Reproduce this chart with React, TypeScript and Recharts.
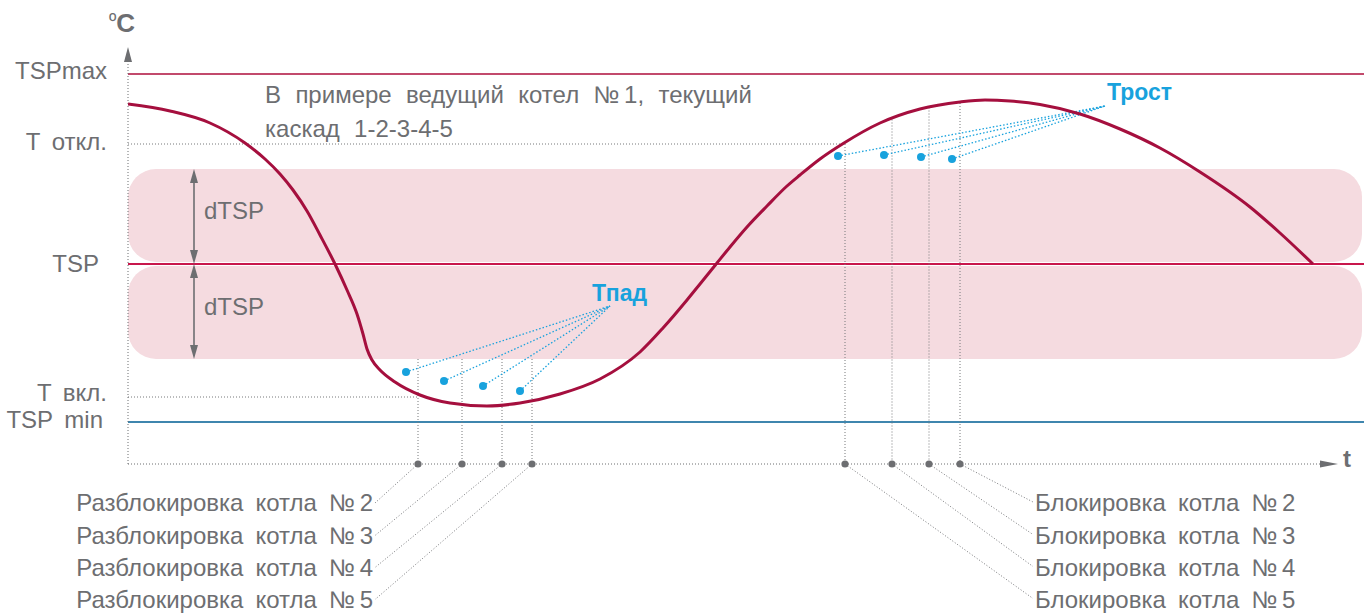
import React from 'react';
import {
  ComposedChart,
  Line,
  XAxis,
  YAxis,
  ReferenceLine,
  ReferenceArea,
  ReferenceDot,
  Scatter,
} from 'recharts';

const FONT = '"Liberation Sans", Arial, Helvetica, sans-serif';
const GRAY = '#6d6e71';
const BLUE = '#18a2dd';
const CURVE = '#a50f3e';
const TSP_COLOR = '#c8174c';
const MAX_COLOR = '#c24a6c';
const MIN_COLOR = '#3f86ae';
const BAND = '#f5dbe0';

const W = 1370;
const H = 614;

// temperature levels (chart units)
const TSP_MAX = 78;
const T_OFF = 64;
const TSP = 40;
const D_TSP = 19;
const T_ON = 13.4;
const TSP_MIN = 8.4;

// time axis
const T_MAX = 124;
const T_AXIS_END = 121;
const LINE_END = 123.6;
const BAND_END = 123.4;
const Y_AXIS_TOP = 83.4;
const Y_MIN = -30;
const Y_MAX = 92.8;

// boiler water temperature curve
const curveTime = [0, 4.2, 8.2, 11.7, 13.7, 15.2, 16.5, 17.9, 19.2, 20.7, 21.9, 22.9, 23.5, 23.9, 24.4, 25.2, 26.7, 29.2, 32.2, 35.9, 39.2, 43.2, 47.2, 51.2, 53.5, 55.9, 57.2, 58.9, 60.2, 61.9, 63.9, 65.9, 67.2, 69.2, 71.6, 75.2, 79.2, 83.2, 85.7, 88.2, 91.2, 95.2, 99.2, 103.2, 107.2, 112.2, 115.2, 118.5];
const curveTemp = [72, 70.6, 68.2, 64.2, 61, 58, 54.8, 50.6, 45.8, 40, 34.8, 30, 26, 23, 20.8, 18.8, 16.4, 13.8, 12.2, 11.6, 12.2, 14, 17, 22.4, 27.2, 32.8, 36, 40.2, 43.4, 47.4, 51.6, 55.6, 57.8, 61, 64.2, 68.2, 71, 72.4, 72.8, 72.6, 71.9, 70, 67, 63.2, 58.4, 51.4, 46.2, 40];

// y-axis level ticks
const levelTicks = [TSP_MAX, T_OFF, TSP, T_ON, TSP_MIN];
const levelLabels = ['TSPmax', 'T откл.', 'TSP', 'T вкл.', 'TSP min'];
const levelLabelDy = [5, 6, 8, 4, 6];
const levelLabelDx = [0, 0, -8, 0, -4];

// Тпад points (falling)
const fallDotTime = [27.8, 31.6, 35.5, 39.2];
const fallDotTemp = [18.4, 16.6, 15.6, 14.6];
const fallHubTime = 48.2;
const fallHubTemp = 31.6;

// Трост points (rising)
const riseDotTime = [71, 75.6, 79.3, 82.4];
const riseDotTemp = [61.6, 61.8, 61.4, 61];
const riseHubTime = 97.7;
const riseHubTemp = 71.6;

// unlock / lock moments on time axis
const unlockTime = [29, 33.4, 37.4, 40.4];
const lockTime = [71.7, 76.4, 80.1, 83.2];
const lockTopTemp = [T_OFF, 68.9, 71.3, 72.2];

// bottom labels
const unlockLabels = ['Разблокировка котла №\u20092', 'Разблокировка котла №\u20093', 'Разблокировка котла №\u20094', 'Разблокировка котла №\u20095'];
const lockLabels = ['Блокировка котла №\u20092', 'Блокировка котла №\u20093', 'Блокировка котла №\u20094', 'Блокировка котла №\u20095'];
const labelRowTemp = [-9.4, -15.9, -22.3, -28.7];
const lockRowForDot = [3, 2, 1, 0];
const unlockLabelEnd = 24.5;
const unlockLeaderEnd = 24.7;
const lockLabelStart = 90.7;
const lockLeaderEnd = 90.5;

const curveData = curveTime.map((t, i) => ({ t, temp: curveTemp[i] }));
const fallDots = fallDotTime.map((t, i) => ({ t, v: fallDotTemp[i] }));
const riseDots = riseDotTime.map((t, i) => ({ t, v: riseDotTemp[i] }));
const axisDots = [...unlockTime, ...lockTime].map((t) => ({ t, v: 0 }));

const arrowLine = (head: [number, number], dashed: boolean, both: boolean) => (p: any) => {
  const { x1, y1, x2, y2 } = p;
  const len = Math.hypot(x2 - x1, y2 - y1) || 1;
  const ux = (x2 - x1) / len;
  const uy = (y2 - y1) / len;
  const [hl, hw] = head;
  const nx = -uy;
  const ny = ux;
  const tri = (tx: number, ty: number, dx: number, dy: number) => {
    const bx = tx - dx * hl;
    const by = ty - dy * hl;
    return `${tx},${ty} ${bx + nx * hw},${by + ny * hw} ${bx - nx * hw},${by - ny * hw}`;
  };
  const sx = both ? x1 + ux * hl * 0.8 : x1;
  const sy = both ? y1 + uy * hl * 0.8 : y1;
  return (
    <g>
      <line
        x1={sx}
        y1={sy}
        x2={x2 - ux * hl * 0.8}
        y2={y2 - uy * hl * 0.8}
        stroke={GRAY}
        strokeWidth={dashed ? 1 : 1.6}
        strokeDasharray={dashed ? '1 2' : undefined}
      />
      <polygon points={tri(x2, y2, ux, uy)} fill={GRAY} />
      {both && <polygon points={tri(x1, y1, -ux, -uy)} fill={GRAY} />}
    </g>
  );
};

const textMark = (
  key: string,
  x: number,
  y: number,
  content: React.ReactNode,
  opts: { size?: number; bold?: boolean; fill?: string; anchor?: string; ws?: number } = {}
) => (
  <ReferenceDot
    key={key}
    x={x}
    y={y}
    r={0}
    ifOverflow="visible"
    shape={(p: any) => (
      <text
        x={p.cx}
        y={p.cy}
        fontFamily={FONT}
        fontSize={opts.size ?? 24}
        fontWeight={opts.bold ? 'bold' : 'normal'}
        fill={opts.fill ?? GRAY}
        textAnchor={opts.anchor ?? 'start'}
        wordSpacing={opts.ws ?? 0}
      >
        {content}
      </text>
    )}
  />
);

const LevelTick = (p: any) => {
  const idx = levelTicks.indexOf(p.payload.value);
  return (
    <text
      x={p.x + levelLabelDx[idx]}
      y={p.y + levelLabelDy[idx]}
      fontFamily={FONT}
      fontSize={24}
      fill={GRAY}
      textAnchor="end"
      wordSpacing={5}
    >
      {levelLabels[idx]}
    </text>
  );
};

const bandShape = (p: any) => (
  <rect x={p.x} y={p.y} width={p.width} height={p.height} rx={28} ry={28} fill={BAND} />
);

export default function App() {
  const dotted = { stroke: '#77787b', strokeWidth: 1, strokeDasharray: '1 2' };
  return (
    <div style={{ position: 'absolute', left: 0, top: 0, width: W, height: H, background: '#fff' }}>
      <ComposedChart width={W} height={H} data={curveData} margin={{ top: 0, right: 2, bottom: 0, left: 0 }}>
        <XAxis type="number" dataKey="t" domain={[0, T_MAX]} hide allowDataOverflow />
        <YAxis
          type="number"
          domain={[Y_MIN, Y_MAX]}
          ticks={levelTicks}
          interval={0}
          width={128}
          axisLine={false}
          tickLine={false}
          tickSize={0}
          tickMargin={21}
          tick={<LevelTick />}
          allowDataOverflow
        />

        {/* dTSP bands */}
        <ReferenceArea x1={0} x2={BAND_END} y1={TSP + 0.4} y2={TSP + D_TSP} shape={bandShape} ifOverflow="visible" />
        <ReferenceArea x1={0} x2={BAND_END} y1={TSP - D_TSP} y2={TSP - 0.4} shape={bandShape} ifOverflow="visible" />

        {/* level lines */}
        <ReferenceLine segment={[{ x: 0, y: TSP_MAX }, { x: LINE_END, y: TSP_MAX }]} stroke={MAX_COLOR} strokeWidth={2} />
        <ReferenceLine segment={[{ x: 0, y: TSP }, { x: LINE_END, y: TSP }]} stroke={TSP_COLOR} strokeWidth={2} />
        <ReferenceLine segment={[{ x: 0, y: TSP_MIN }, { x: LINE_END, y: TSP_MIN }]} stroke={MIN_COLOR} strokeWidth={2} />
        <ReferenceLine segment={[{ x: 0, y: T_OFF }, { x: lockTime[0], y: T_OFF }]} {...dotted} />
        <ReferenceLine segment={[{ x: 0, y: T_ON }, { x: unlockTime[0], y: T_ON }]} {...dotted} />

        {/* axes with arrows */}
        <ReferenceLine segment={[{ x: 0, y: 0 }, { x: 0, y: Y_AXIS_TOP }]} shape={arrowLine([15, 4], true, false)} />
        <ReferenceLine segment={[{ x: 0, y: 0 }, { x: T_AXIS_END, y: 0 }]} shape={arrowLine([18, 3.5], true, false)} />

        {/* dTSP arrows */}
        <ReferenceLine segment={[{ x: 6.6, y: TSP }, { x: 6.6, y: TSP + D_TSP }]} shape={arrowLine([14, 4], false, true)} />
        <ReferenceLine segment={[{ x: 6.6, y: TSP - D_TSP }, { x: 6.6, y: TSP }]} shape={arrowLine([14, 4], false, true)} />

        {/* vertical drop lines */}
        {unlockTime.map((t, i) => (
          <ReferenceLine key={`ul${i}`} segment={[{ x: t, y: TSP - D_TSP }, { x: t, y: 0 }]} {...dotted} />
        ))}
        {lockTime.map((t, i) => (
          <ReferenceLine key={`ll${i}`} segment={[{ x: t, y: lockTopTemp[i] }, { x: t, y: 0 }]} {...dotted} />
        ))}

        {/* leaders to bottom labels */}
        {unlockTime.map((t, i) => (
          <ReferenceLine key={`ud${i}`} segment={[{ x: t, y: 0 }, { x: unlockLeaderEnd, y: labelRowTemp[i] + 1.6 }]} {...dotted} />
        ))}
        {lockTime.map((t, i) => (
          <ReferenceLine
            key={`ld${i}`}
            segment={[{ x: t, y: 0 }, { x: lockLeaderEnd, y: labelRowTemp[lockRowForDot[i]] + 1.8 }]}
            {...dotted}
          />
        ))}

        {/* blue leaders */}
        {fallDotTime.map((t, i) => (
          <ReferenceLine
            key={`fb${i}`}
            segment={[{ x: t, y: fallDotTemp[i] }, { x: fallHubTime, y: fallHubTemp }]}
            stroke={BLUE}
            strokeWidth={1.3}
            strokeDasharray="1.5 2"
          />
        ))}
        {riseDotTime.map((t, i) => (
          <ReferenceLine
            key={`rb${i}`}
            segment={[{ x: t, y: riseDotTemp[i] }, { x: riseHubTime, y: riseHubTemp }]}
            stroke={BLUE}
            strokeWidth={1.3}
            strokeDasharray="1.5 2"
          />
        ))}

        <Line
          type="monotone"
          dataKey="temp"
          stroke={CURVE}
          strokeWidth={3}
          dot={false}
          activeDot={false}
          isAnimationActive={false}
        />

        <Scatter data={fallDots} dataKey="v" isAnimationActive={false} shape={(p: any) => <circle cx={p.cx} cy={p.cy} r={4} fill={BLUE} />} />
        <Scatter data={riseDots} dataKey="v" isAnimationActive={false} shape={(p: any) => <circle cx={p.cx} cy={p.cy} r={4} fill={BLUE} />} />
        <Scatter data={axisDots} dataKey="v" isAnimationActive={false} shape={(p: any) => <circle cx={p.cx} cy={p.cy} r={3.6} fill={GRAY} />} />

        {/* texts */}
        {textMark('unit', -1.9, 86.4, (
          <>
            <tspan fontSize={20} dy={-4}>º</tspan>
            <tspan fontSize={26} fontWeight="bold" dy={4}>C</tspan>
          </>
        ))}
        {textMark('tt', 121.5, -0.6, 't', { size: 24, bold: true })}
        {textMark('note1', 13.7, 72.2, 'В примере ведущий котел №\u20091, текущий', { size: 24, ws: 7.7 })}
        {textMark('note2', 13.7, 65.4, 'каскад 1-2-3-4-5', { size: 24, ws: 7.7 })}
        {textMark('d1', 7.6, 49, 'dTSP', { size: 24 })}
        {textMark('d2', 7.6, 29.8, 'dTSP', { size: 24 })}
        {textMark('fall', 46.4, 32.6, 'Тпад', { size: 23, bold: true, fill: BLUE })}
        {textMark('rise', 97.9, 72.8, 'Трост', { size: 23, bold: true, fill: BLUE })}
        {unlockLabels.map((s, i) => textMark(`ulab${i}`, unlockLabelEnd, labelRowTemp[i], s, { size: 24, anchor: 'end', ws: 5.5 }))}
        {lockLabels.map((s, i) => textMark(`llab${i}`, lockLabelStart, labelRowTemp[i], s, { size: 24, ws: 5.5 }))}
      </ComposedChart>
    </div>
  );
}
